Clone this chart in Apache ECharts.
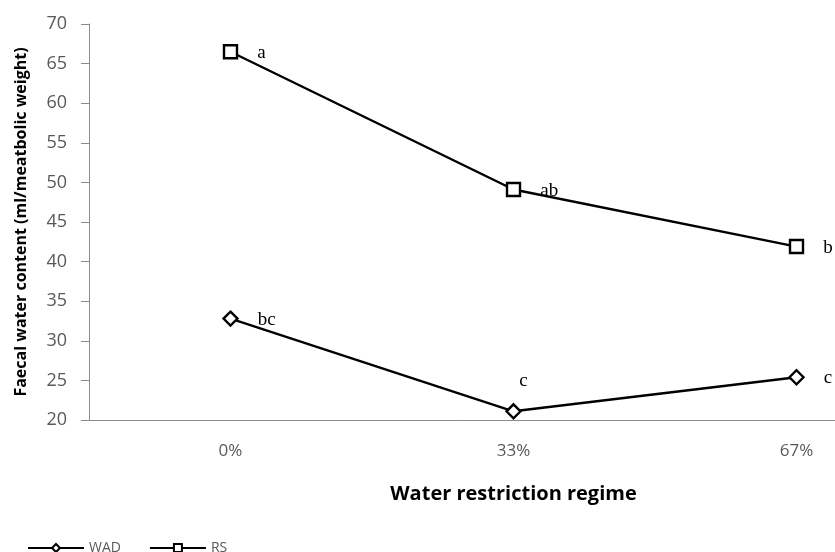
<!DOCTYPE html>
<html><head><meta charset="utf-8">
<script src="https://cdn.jsdelivr.net/npm/echarts@6/dist/echarts.min.js"></script>
<style>html,body{margin:0;padding:0;background:#fff}#c{width:835px;height:552px}</style>
</head><body><div id="c"></div>
<script>
var categories = ['0%', '33%', '67%'];
var wadValues = [32.8, 21.1, 25.4];
var rsValues = [66.5, 49.1, 41.9];
var wadLetters = ['bc', 'c', 'c'];
var rsLetters = ['a', 'ab', 'b'];
var yTicks = [20, 25, 30, 35, 40, 45, 50, 55, 60, 65, 70];

var chart = echarts.init(document.getElementById('c'));
var lblBase = {show: true, fontFamily: 'Liberation Serif', fontSize: 19, color: '#000'};
chart.setOption({
  animation: false,
  grid: {left: 89, top: 24, width: 849, height: 396, containLabel: false, outerBoundsMode: 'none'},
  legend: {
    left: 22, bottom: -8, itemWidth: 56, itemHeight: 10, itemGap: 28,
    textStyle: {color: '#595959', fontFamily: 'Open Sans', fontSize: 14},
    data: ['WAD', 'RS']
  },
  xAxis: {
    type: 'category', data: categories, boundaryGap: true,
    name: 'Water restriction regime', nameLocation: 'middle', nameGap: 64,
    nameTextStyle: {fontFamily: 'Open Sans', fontWeight: 'bold', fontSize: 20, color: '#000'},
    axisLine: {lineStyle: {color: '#8c8c8c', width: 1}},
    axisTick: {show: false},
    axisLabel: {color: '#595959', fontFamily: 'Open Sans', fontSize: 17, margin: 23}
  },
  yAxis: {
    type: 'value', min: 20, max: 70, interval: 5,
    name: 'Faecal water content (ml/meatbolic weight)', nameLocation: 'middle', nameGap: 60,
    nameTextStyle: {fontFamily: 'Open Sans', fontWeight: 'bold', fontSize: 16, color: '#000'},
    axisLine: {show: true, lineStyle: {color: '#8c8c8c', width: 1}},
    axisTick: {show: true, length: 8, lineStyle: {color: '#8c8c8c'}},
    splitLine: {show: false},
    axisLabel: {color: '#595959', fontFamily: 'Open Sans', fontSize: 18, margin: 22,
      formatter: function (v) { return yTicks.indexOf(v) >= 0 ? String(v) : ''; }}
  },
  series: [
    {
      name: 'WAD', type: 'line', data: wadValues,
      symbol: 'diamond', symbolSize: 14, showAllSymbol: true,
      lineStyle: {color: '#000', width: 2.4},
      itemStyle: {color: '#fff', borderColor: '#000', borderWidth: 2.4},
      label: Object.assign({}, lblBase, {
        formatter: function (p) { return wadLetters[p.dataIndex]; }
      }),
      labelLayout: function (p) {
        var i = p.dataIndex;
        var r = p.rect;
        if (i === 1) return {x: r.x + r.width / 2 + 10, y: r.y - 22, align: 'center', verticalAlign: 'middle'};
        return {x: r.x + r.width + 19, y: r.y + r.height / 2 + 1, align: 'left', verticalAlign: 'middle'};
      }
    },
    {
      name: 'RS', type: 'line', data: rsValues,
      symbol: 'rect', symbolSize: 13, showAllSymbol: true,
      lineStyle: {color: '#000', width: 2.4},
      itemStyle: {color: '#fff', borderColor: '#000', borderWidth: 2.4},
      label: Object.assign({}, lblBase, {
        formatter: function (p) { return rsLetters[p.dataIndex]; }
      }),
      labelLayout: function (p) {
        var i = p.dataIndex;
        var r = p.rect;
        return {x: r.x + r.width + 19, y: r.y + r.height / 2 + 1, align: 'left', verticalAlign: 'middle'};
      }
    }
  ]
});
</script></body></html>
